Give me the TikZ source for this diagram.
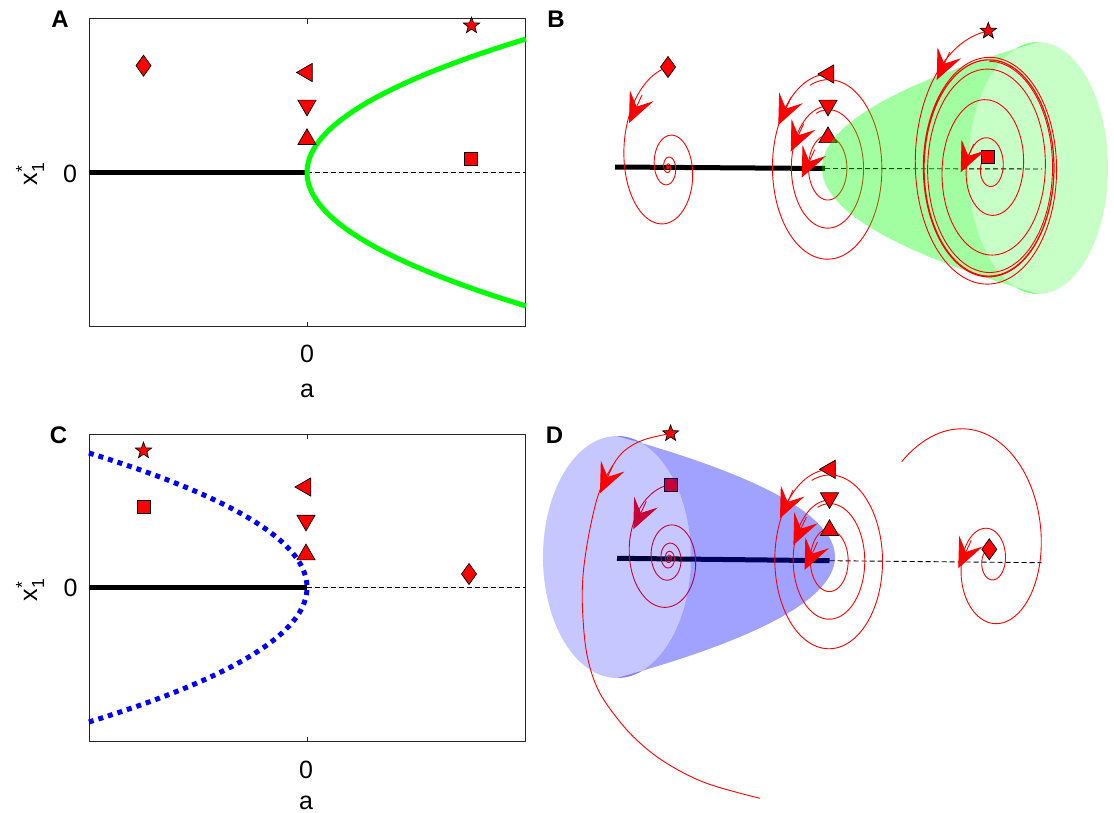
\documentclass[tikz,border=0pt]{standalone}
\usepackage{amsmath}
\usepackage{fontspec}
\setmainfont{Liberation Sans}
\usepackage{tikz}
\usetikzlibrary{arrows.meta,shapes.geometric}
\definecolor{grn}{RGB}{0,255,0}
\definecolor{blu}{RGB}{0,0,255}
\tikzset{
  frame/.style={line width=1pt, black!85},
  zeroln/.style={line width=5pt, black},
  dashln/.style={line width=0.9pt, black, dash pattern=on 5pt off 3pt},
  grnln/.style={line width=5pt, grn},
  dotln/.style={line width=5pt, blu, dash pattern=on 5pt off 5pt},
  traj/.style={line width=0.9pt, red},
  arr/.style={-{Stealth[length=30pt, width=26pt, inset=12pt]}, line width=0.9pt, red},
  mk/.style={draw=black, fill=red, line width=0.7pt, inner sep=0pt, outer sep=0pt},
  dia/.style={mk, diamond, minimum width=15pt, minimum height=21pt},
  tril/.style={mk, regular polygon, regular polygon sides=3, minimum size=21pt, shape border rotate=90},
  trid/.style={mk, regular polygon, regular polygon sides=3, minimum size=21pt, shape border rotate=180},
  triu/.style={mk, regular polygon, regular polygon sides=3, minimum size=21pt},
  sqr/.style={mk, rectangle, minimum size=13pt},
  pent/.style={mk, star, star points=5, star point ratio=2.4, minimum size=17pt},
  tick/.style={font=\fontsize{25}{30}\selectfont},
  lbl/.style={font=\fontsize{24}{28}\selectfont\bfseries},
}

\begin{document}
\begin{tikzpicture}[x=1pt, y=-1pt]
  \useasboundingbox (0,0) rectangle (1114,813);

  % --- (A) supercritical, a vs x1* ---
  \draw[frame] (89,19) rectangle (525,326.5);
  \draw[frame] (307,19) -- (307,24) (307,326.5) -- (307,321.5);
  \draw[zeroln] (89,172.5) -- (307,172.5);
  \draw[dashln] (307,172.5) -- (525,172.5);
  \draw[grnln] plot[domain=-133.5:133.5, samples=80] ({307+0.01229*(\x)*(\x)}, {172.5+(\x)});
  \node[dia]  (dmA) at (143.5,65.7) {};
  \node[tril] (ltA) at (307,72.5) {};
  \node[trid] (dtA) at (307,105.4) {};
  \node[triu] (utA) at (307,139.3) {};
  \node[pent] (stA) at (471.5,25.7) {};
  \node[sqr]  (sqA) at (471.2,159.2) {};
  \node[tick] (y0A) at (70,174) {0};
  \node[tick] (x0A) at (307,354) {0};
  \node[tick] (xlA) at (307,390.7) {a};
  \node[tick, rotate=90] (ylA) at (30,174) {x$_{\text{1}}^{\text{*}}$};
  \node[lbl] (pA) at (60,19) {A};

  % --- (C) subcritical, a vs x1* ---
  \begin{scope}[shift={(0,415)}]
    \draw[frame] (89,19) rectangle (525,326.5);
    \draw[frame] (307,19) -- (307,24) (307,326.5) -- (307,321.5);
    \draw[zeroln] (89,172.5) -- (307,172.5);
    \draw[dashln] (307,172.5) -- (525,172.5);
    \draw[dotln] plot[domain=-134.5:134.5, samples=80] ({307-0.01205*(\x)*(\x)}, {172.5+(\x)});
    \node[pent] (stC) at (143.5,35.7) {};
    \node[sqr]  (sqC) at (143.5,92.3) {};
    \node[tril] (ltC) at (305.5,72) {};
    \node[trid] (dtC) at (306,105.4) {};
    \node[triu] (utC) at (306,139.6) {};
    \node[dia]  (dmC) at (469,159) {};
    \node[tick] (y0C) at (70.5,173.3) {0};
    \node[tick] (x0C) at (306,355) {0};
    \node[tick] (xlC) at (306,388) {a};
    \node[tick, rotate=90] (ylC) at (30,175) {x$_{\text{1}}^{\text{*}}$};
    \node[lbl] (pC) at (58.5,20) {C};
  \end{scope}

  % --- (B) trajectories, supercritical ---
  \fill[grn, fill opacity=0.22] (1038,168) ellipse[x radius=70, y radius=126];
  \draw[zeroln] (615,167) -- (825,168.5);
  \draw[dashln] (825,168.5) -- (1042,169);
  % a<0
  \draw[traj] plot[domain=0:1800, samples=600] ({668-58*exp(-\x/310)*sin(\x)}, {167-100*exp(-\x/310)*cos(\x)});
  \node[dia] (dmB) at (668,67) {};
  % a=0
  \foreach \rr in {94,62,33}
    \draw[traj] plot[domain=0:380, samples=150] ({828-0.6*\rr*(1-0.06*\x/360)*sin(\x)}, {168-\rr*(1-0.06*\x/360)*cos(\x)});
  \node[tril] (ltB) at (828.5,74) {};
  \node[trid] (dtB) at (828,105.4) {};
  \node[triu] (utB) at (828,137.4) {};
  \foreach \tx/\ty in {629/123, 778.3/125, 790.7/151.7, 801.7/177.7}
    \draw[arr] (\tx+13,\ty-28) -- (\tx,\ty);
  \fill[grn, fill opacity=0.37] plot[domain=-126:126, samples=60] ({822+0.01361*(\x)*(\x)}, {168+(\x)})
    arc[start angle=90, end angle=270, x radius=70, y radius=126] -- cycle;
  % a>0, limit cycle
  \draw[traj] plot[domain=0:1440, samples=500] ({989-64.8/sqrt(1-0.3786*exp(-\x/174.2))*sin(\x)}, {168-108/sqrt(1-0.3786*exp(-\x/174.2))*cos(\x)});
  \draw[traj] plot[domain=0:1440, samples=500] ({989-64.8/sqrt(1+95.4*exp(-\x/174.2))*sin(\x)}, {168-108/sqrt(1+95.4*exp(-\x/174.2))*cos(\x)});
  \node[pent] (stB) at (988.3,31) {};
  \node[sqr]  (sqB) at (988.3,156.7) {};
  \foreach \tx/\ty in {936.7/80, 960.7/172.3}
    \draw[arr] (\tx+13,\ty-28) -- (\tx,\ty);
  \node[lbl] (pB) at (556,19) {B};

  % --- (D) trajectories, subcritical ---
  \draw[zeroln] (617,558.3) -- (829.5,560.7);
  % a<0
  \draw[traj] plot[domain=0:1800, samples=600] ({669-48.2*exp(-\x/450)*sin(\x)}, {558-73*exp(-\x/450)*cos(\x)});
  \node[sqr] (sqD) at (670.6,485) {};
  \draw[arr] (633.3+13,529.3-28) -- (633.3,529.3);
  \fill[blu, fill opacity=0.22] (617,557) ellipse[x radius=74, y radius=121];
  \fill[blu, fill opacity=0.37] plot[domain=-121:121, samples=60] ({835-0.01489*(\x)*(\x)}, {557+(\x)})
    arc[start angle=90, end angle=-90, x radius=74, y radius=121] -- cycle;
  \draw[dashln] (829.5,560.7) -- (1041.5,562.7);
  \node[pent] (stD) at (670.6,433.5) {};
  \draw[traj] plot[smooth, tension=0.6] coordinates {(stD.center) (643.3,440) (623.3,451.7) (610,470) (600,490)
    (593.3,513.3) (586.7,546.7) (582.7,580) (582.7,613.3) (586.7,653.3) (596.7,686.7) (613.3,713.3)
    (636.7,740) (666.7,763.3) (706.7,783.3) (760,798.3)};
  % a=0
  \foreach \rr in {91,60.5,32}
    \draw[traj] plot[domain=0:380, samples=150] ({829.5-0.61*\rr*(1-0.06*\x/360)*sin(\x)}, {560.5-\rr*(1-0.06*\x/360)*cos(\x)});
  \node[tril] (ltD) at (830,469.3) {};
  \node[trid] (dtD) at (829.5,498) {};
  \node[triu] (utD) at (829.5,530.3) {};
  % a>0
  \draw[traj] plot[domain=0:772, samples=300] ({992-0.62*exp(2.48+0.199*\x/90+0.0122*(\x/90)*(\x/90))*sin(\x)-0.07*exp(2.48+0.199*\x/90+0.0122*(\x/90)*(\x/90))}, {561-exp(2.48+0.199*\x/90+0.0122*(\x/90)*(\x/90))*cos(\x)});
  \node[dia] (dmD) at (989.3,549.3) {};
  \foreach \tx/\ty in {600/493.3, 780/518.3, 793.4/545, 804.5/570, 958.3/568.3}
    \draw[arr] (\tx+13,\ty-28) -- (\tx,\ty);
  \node[lbl] (pD) at (554.5,435) {D};
\end{tikzpicture}
\end{document}
